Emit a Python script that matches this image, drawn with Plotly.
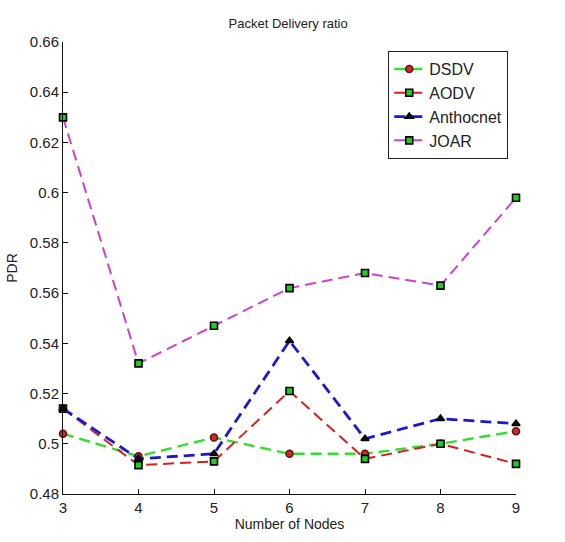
import plotly.graph_objects as go

nodes = [3, 4, 5, 6, 7, 8, 9]
dsdv = [0.504, 0.495, 0.5025, 0.496, 0.496, 0.500, 0.505]
aodv = [0.514, 0.4915, 0.493, 0.521, 0.494, 0.500, 0.492]
anthocnet = [0.514, 0.494, 0.496, 0.541, 0.502, 0.510, 0.508]
joar = [0.630, 0.532, 0.547, 0.562, 0.568, 0.563, 0.598]

y_ticks = [0.48, 0.50, 0.52, 0.54, 0.56, 0.58, 0.60, 0.62, 0.64, 0.66]
y_ticktext = ["0.48", "0.5", "0.52", "0.54", "0.56", "0.58", "0.6", "0.62", "0.64", "0.66"]
x_ticks = [3, 4, 5, 6, 7, 8, 9]

FONT = "Liberation Sans, Arial, sans-serif"

fig = go.Figure()

def add(name, y, lcolor, lwidth, symbol, mfill, mline, msize):
    fig.add_trace(go.Scatter(
        x=nodes, y=y, name=name, mode="lines+markers",
        line=dict(color=lcolor, width=lwidth, dash="11px,6px"),
        marker=dict(symbol=symbol, color=mfill, size=msize,
                    line=dict(color=mline, width=1.6)),
        cliponaxis=False,
    ))

add("DSDV", dsdv, "#33dd33", 2.4, "circle", "#cc2b2b", "#6b1010", 7)
add("AODV", aodv, "#d42020", 2.0, "square", "#22cc22", "#000000", 7)
add("Anthocnet", anthocnet, "#1a1acc", 2.8, "triangle-up", "#111111", "#000000", 7)
add("JOAR", joar, "#cc44cc", 2.0, "square", "#22cc22", "#000000", 7)

fig.update_layout(
    width=565, height=542,
    margin=dict(l=61, r=49, t=42, b=46),
    paper_bgcolor="white", plot_bgcolor="white",
    font=dict(family=FONT, size=15, color="#222222"),
    title=dict(text="Packet Delivery ratio", x=0.51, xanchor="center",
               y=1 - 23 / 542, yanchor="middle",
               font=dict(family=FONT, size=13, color="#222222")),
    showlegend=True,
    legend=dict(x=0.718, y=0.98, xanchor="left", yanchor="top",
                bordercolor="#222222", borderwidth=1, bgcolor="white",
                font=dict(family=FONT, size=16, color="#222222"),
                itemwidth=30, tracegroupgap=0),
    xaxis=dict(range=[3, 9], tickvals=x_ticks, ticks="inside", ticklen=5,
               tickcolor="#111111", showline=True, linecolor="#111111", linewidth=1,
               showgrid=False, zeroline=False, mirror=False,
               tickfont=dict(size=15),
               title=dict(text="Number of Nodes", standoff=4,
                          font=dict(family=FONT, size=14, color="#222222"))),
    yaxis=dict(range=[0.48, 0.66], tickvals=y_ticks, ticktext=y_ticktext,
               ticks="inside", ticklen=5, tickcolor="#111111",
               showline=True, linecolor="#111111", linewidth=1,
               showgrid=False, zeroline=False, mirror=False,
               tickfont=dict(size=15),
               title=dict(text="PDR", standoff=8,
                          font=dict(family=FONT, size=14, color="#222222"))),
)

fig.write_html("out.html")
